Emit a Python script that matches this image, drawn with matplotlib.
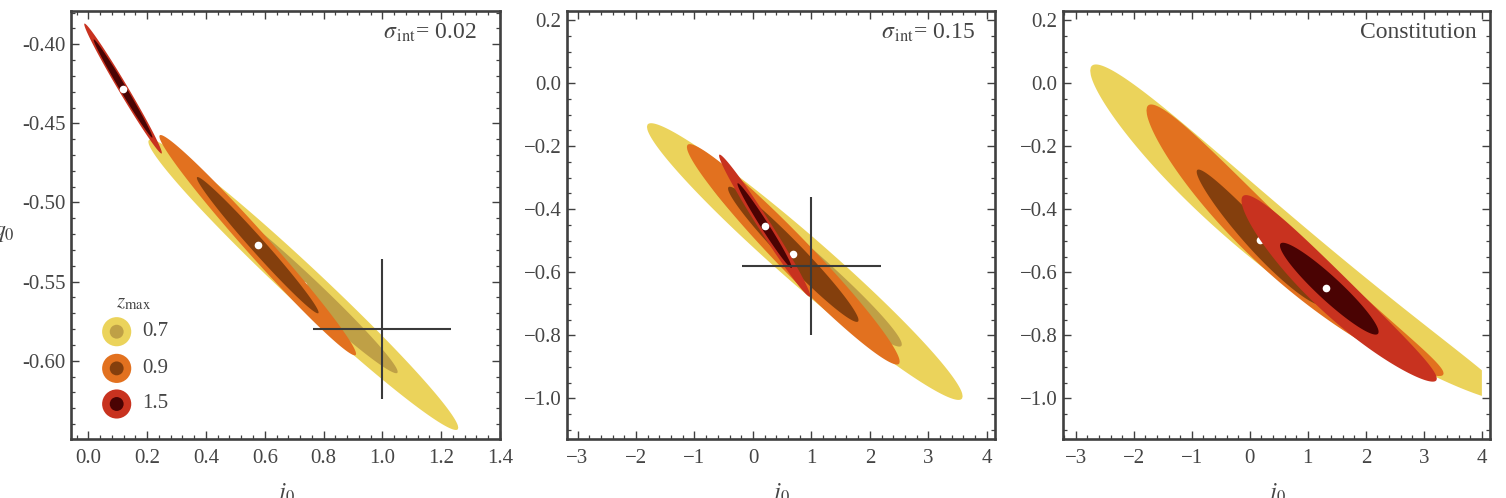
import numpy as np
import matplotlib
matplotlib.use("Agg")
import matplotlib.pyplot as plt
from matplotlib.ticker import MultipleLocator, FuncFormatter

plt.rcParams['font.family'] = ['Liberation Serif', 'DejaVu Serif']
plt.rcParams['mathtext.fontset'] = 'stix'

# ---------------- data ----------------
zmax_values = ['0.7', '0.9', '1.5']
light_colors = ['#EBD35B', '#E2711F', '#C8321F']   # 2-sigma regions
dark_colors = ['#BFA046', '#843F0D', '#4A0303']    # 1-sigma regions

# Panel 1: sigma_int = 0.02 (forecast ellipses)
p1_cj = [0.731, 0.576, 0.118]
p1_cq = [-0.552, -0.527, -0.428]
p1_slope = [-0.1715, -0.2054, -0.308]
p1_len_2s = [0.527, 0.3345, 0.132]
p1_wid_2s = [0.016, 0.0112, 0.0058]
p1_len_1s = [0.321, 0.207, 0.100]
p1_wid_1s = [0.0098, 0.0068, 0.0040]
p1_fid = (1.0, -0.58)
p1_bar = (0.235, 0.044)

# Panel 2: sigma_int = 0.15
p2_cj = [0.887, 0.69, 0.20]
p2_cq = [-0.566, -0.543, -0.452]
p2_slope = [-0.1583, -0.187, -0.285]
p2_len_2s = [2.70, 1.82, 0.78]
p2_wid_2s = [0.10, 0.08, 0.037]
p2_len_1s = [1.66, 1.116, 0.465]
p2_wid_1s = [0.061, 0.049, 0.023]
p2_fid = (1.0, -0.58)
p2_bar = (1.19, 0.22)

# Panel 3: Constitution (curved likelihood regions, computed up to j0 = 4)
p3_jmax = 4.0
p3_cj_2s = [0.85, 0.78, 1.54]
p3_cq_2s = [-0.557, -0.5724, -0.683]
p3_slope_2s = [-0.1442, -0.163, -0.168]
p3_curv_2s = [0.006, 0.0105, 0.010]
p3_taper_2s = [-0.10, -0.15, -0.15]
p3_len_2s = [3.6, 2.56, 1.683]
p3_wid_2s = [0.115, 0.10, 0.085]
p3_cj_1s = [None, 0.175, 1.37]
p3_cq_1s = [None, -0.50, -0.652]
p3_slope_1s = [None, -0.19, -0.161]
p3_curv_1s = [None, 0.010, 0.0]
p3_len_1s = [None, 1.09, 0.85]
p3_wid_1s = [None, 0.057, 0.05]
p3_best_j = [0.85, 0.175, 1.314]
p3_best_q = [-0.557, -0.499, -0.649]

labels_text = [r'$\sigma_{\,\rm int}$= 0.02', r'$\sigma_{\,\rm int}$= 0.15', 'Constitution']

# ---------------- helpers ----------------
FRAME = '#404040'
TXT = '#454545'


def region(ax, cj, cq, half_len, half_wid, slope, color, z, curv=0.0, taper=0.0, jmax=None):
    hi = half_len if jmax is None else min(half_len, jmax - cj)
    u = np.linspace(-half_len, hi, 700)
    w = half_wid * np.exp(taper * u) * np.sqrt(np.clip(1 - (u / half_len) ** 2, 0, None))
    mid = cq + slope * u + curv * u ** 2
    x = cj + u
    xs = np.concatenate([x, x[::-1]])
    ys = np.concatenate([mid + w, (mid - w)[::-1]])
    ax.fill(xs, ys, color=color, lw=0, zorder=z)


def style(ax, xlim, ylim, xmaj, xmin, ymaj, ymin, xfmt, yfmt):
    ax.set_xlim(*xlim)
    ax.set_ylim(*ylim)
    ax.xaxis.set_major_locator(MultipleLocator(xmaj))
    ax.xaxis.set_minor_locator(MultipleLocator(xmin))
    ax.yaxis.set_major_locator(MultipleLocator(ymaj))
    ax.yaxis.set_minor_locator(MultipleLocator(ymin))
    ax.xaxis.set_major_formatter(FuncFormatter(xfmt))
    ax.yaxis.set_major_formatter(FuncFormatter(yfmt))
    ax.tick_params(which='both', direction='in', top=True, right=True,
                   color=FRAME, labelsize=15, labelcolor=TXT)
    ax.tick_params(which='major', length=5.5, width=1.0)
    ax.tick_params(which='minor', length=3.0, width=0.9)
    ax.tick_params(axis='x', which='major', pad=7)
    ax.tick_params(axis='y', which='major', pad=4)
    for s in ax.spines.values():
        s.set_color(FRAME)
        s.set_linewidth(1.9)


def minus(s):
    return s.replace('-', '\u2212')


def fmt_int(v, p):
    return minus('%d' % int(round(v)))


def fmt_1(v, p):
    if abs(v) < 1e-9:
        v = 0.0
    return minus('%.1f' % v)


fig = plt.figure(figsize=(15.06, 4.98), dpi=100)
W, H = 1506.0, 498.0
boxes = [(71, 500), (567, 995), (1063, 1490)]
top, bot = 11, 439
axes = []
for l, r in boxes:
    axes.append(fig.add_axes([l / W, 1 - bot / H, (r - l) / W, (bot - top) / H]))

# ---- panel 1 ----
ax = axes[0]
z = 2
for i in range(3):
    region(ax, p1_cj[i], p1_cq[i], p1_len_2s[i], p1_wid_2s[i], p1_slope[i], light_colors[i], z)
    region(ax, p1_cj[i], p1_cq[i], p1_len_1s[i], p1_wid_1s[i], p1_slope[i], dark_colors[i], z + 1)
    ax.plot(p1_cj[i], p1_cq[i], 'o', ms=5.5, mfc='white', mec='none', zorder=z + 2)
    z += 3
ax.errorbar([p1_fid[0]], [p1_fid[1]], xerr=[p1_bar[0]], yerr=[p1_bar[1]], fmt='none',
            ecolor='#3a3a3a', elinewidth=1.5, capsize=0, zorder=20)
style(ax, (-0.059, 1.4), (-0.6495, -0.379), 0.2, 0.04, 0.05, 0.01,
      lambda v, p: '%.1f' % (0.0 if abs(v) < 1e-9 else v),
      lambda v, p: '%.2f' % v)

# legend
ax.text(0.145, 0.318, r'$z_{\rm max}$', transform=ax.transAxes, ha='center', va='center',
        fontsize=15, color=TXT)
leg_y = [0.2507, 0.165, 0.0818]
for i in range(3):
    ax.scatter([0.1065], [leg_y[i]], s=440, c=light_colors[i], edgecolors='none',
               transform=ax.transAxes, zorder=30, clip_on=False)
    ax.scatter([0.1065], [leg_y[i]], s=100, c=dark_colors[i], edgecolors='none',
               transform=ax.transAxes, zorder=31, clip_on=False)
    ax.text(0.167, leg_y[i], zmax_values[i], transform=ax.transAxes, ha='left', va='center',
            fontsize=15, color=TXT)

# ---- panel 2 ----
ax = axes[1]
z = 2
for i in range(3):
    region(ax, p2_cj[i], p2_cq[i], p2_len_2s[i], p2_wid_2s[i], p2_slope[i], light_colors[i], z)
    region(ax, p2_cj[i], p2_cq[i], p2_len_1s[i], p2_wid_1s[i], p2_slope[i], dark_colors[i], z + 1)
    ax.plot(p2_cj[i], p2_cq[i], 'o', ms=5.5, mfc='white', mec='none', zorder=z + 2)
    z += 3
ax.errorbar([p2_fid[0]], [p2_fid[1]], xerr=[p2_bar[0]], yerr=[p2_bar[1]], fmt='none',
            ecolor='#3a3a3a', elinewidth=1.5, capsize=0, zorder=20)
style(ax, (-3.181, 4.141), (-1.129, 0.229), 1, 0.2, 0.2, 0.05, fmt_int, fmt_1)

# ---- panel 3 ----
ax = axes[2]
z = 2
for i in range(3):
    region(ax, p3_cj_2s[i], p3_cq_2s[i], p3_len_2s[i], p3_wid_2s[i], p3_slope_2s[i],
           light_colors[i], z, curv=p3_curv_2s[i], taper=p3_taper_2s[i], jmax=p3_jmax)
    if p3_cj_1s[i] is not None:
        region(ax, p3_cj_1s[i], p3_cq_1s[i], p3_len_1s[i], p3_wid_1s[i], p3_slope_1s[i],
               dark_colors[i], z + 1, curv=p3_curv_1s[i], jmax=p3_jmax)
    ax.plot(p3_best_j[i], p3_best_q[i], 'o', ms=5.5, mfc='white', mec='none', zorder=z + 2)
    z += 3
style(ax, (-3.219, 4.14), (-1.129, 0.229), 1, 0.2, 0.2, 0.05, fmt_int, fmt_1)

# annotations and axis labels
ann_x = [0.946, 0.953, 0.9695]
for ax, t, xx in zip(axes, labels_text, ann_x):
    ax.text(xx, 0.949, t, transform=ax.transAxes, ha='right', va='center',
            fontsize=17, color=TXT, zorder=40)
    ax.text(0.5, -0.098, r'$j_0$', transform=ax.transAxes, ha='center', va='top',
            fontsize=17, color=TXT)
fig.text(4 / W, 1 - 233 / H, r'$q_0$', ha='center', va='center', fontsize=17, color=TXT)

fig.savefig('out.png', dpi=100)
